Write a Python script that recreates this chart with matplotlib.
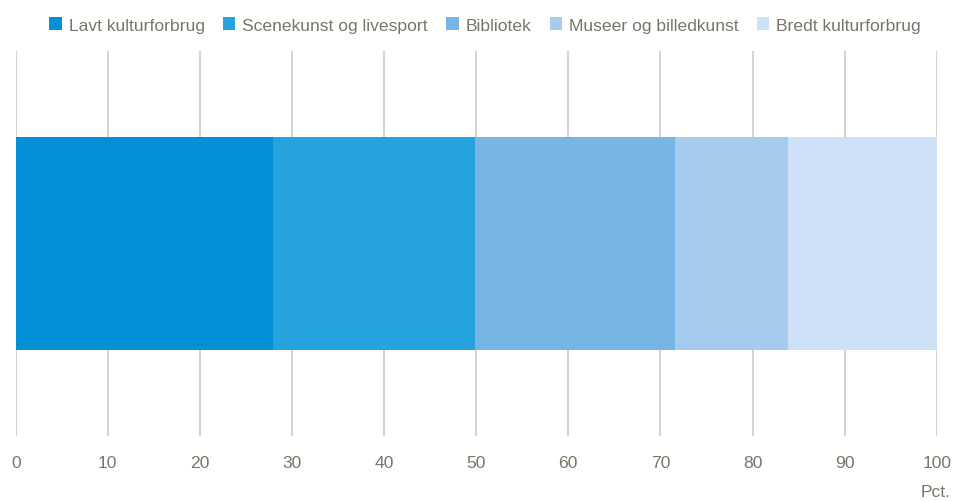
import matplotlib
matplotlib.use("Agg")
import matplotlib.pyplot as plt
from matplotlib.patches import Patch

# Andele i pct.
groups = ['Lavt kulturforbrug', 'Scenekunst og livesport', 'Bibliotek',
          'Museer og billedkunst', 'Bredt kulturforbrug']
shares = [27.9, 22.0, 21.7, 12.3, 16.1]
colors = ['#0290d6', '#26a2dc', '#77b5e4', '#a5cbef', '#cfe1f6']
ticks = list(range(0, 101, 10))

text_color = '#76766a'
grid_color = '#cdcdc4'
fs = 12.6

plt.rcParams['font.family'] = ['Liberation Sans', 'DejaVu Sans']

fig = plt.figure(figsize=(9.55, 5.02), dpi=100)
ax = fig.add_axes([15.7 / 955, 1 - 437 / 502, 921 / 955, 385 / 502])

left = 0
for g, s, c in zip(groups, shares, colors):
    ax.barh(0, s, left=left, height=0.555, color=c, label=g, zorder=2)
    left += s

ax.set_xlim(0, 100)
ax.set_ylim(-0.5, 0.5)
ax.set_xticks(ticks)
ax.set_xticklabels([str(t) for t in ticks], fontsize=fs, color=text_color)
ax.set_yticks([])
ax.tick_params(axis='x', length=0, pad=14)
ax.grid(axis='x', color=grid_color, linewidth=1.2, zorder=0)
for sp in ax.spines.values():
    sp.set_visible(False)

ax.text(0.9985, -0.145, 'Pct.', transform=ax.transAxes, ha='center', va='center',
        fontsize=fs, color=text_color)

handles = [Patch(facecolor=c, edgecolor='none') for c in colors]
leg = fig.legend(handles, groups, loc='center', bbox_to_anchor=(0.508, 1 - 26 / 502),
                 ncol=5, frameon=False, fontsize=fs, handlelength=0.7, handleheight=0.7,
                 handletextpad=0.4, columnspacing=1.05, borderpad=0)
for t in leg.get_texts():
    t.set_color(text_color)

fig.savefig('out.png', dpi=100)
